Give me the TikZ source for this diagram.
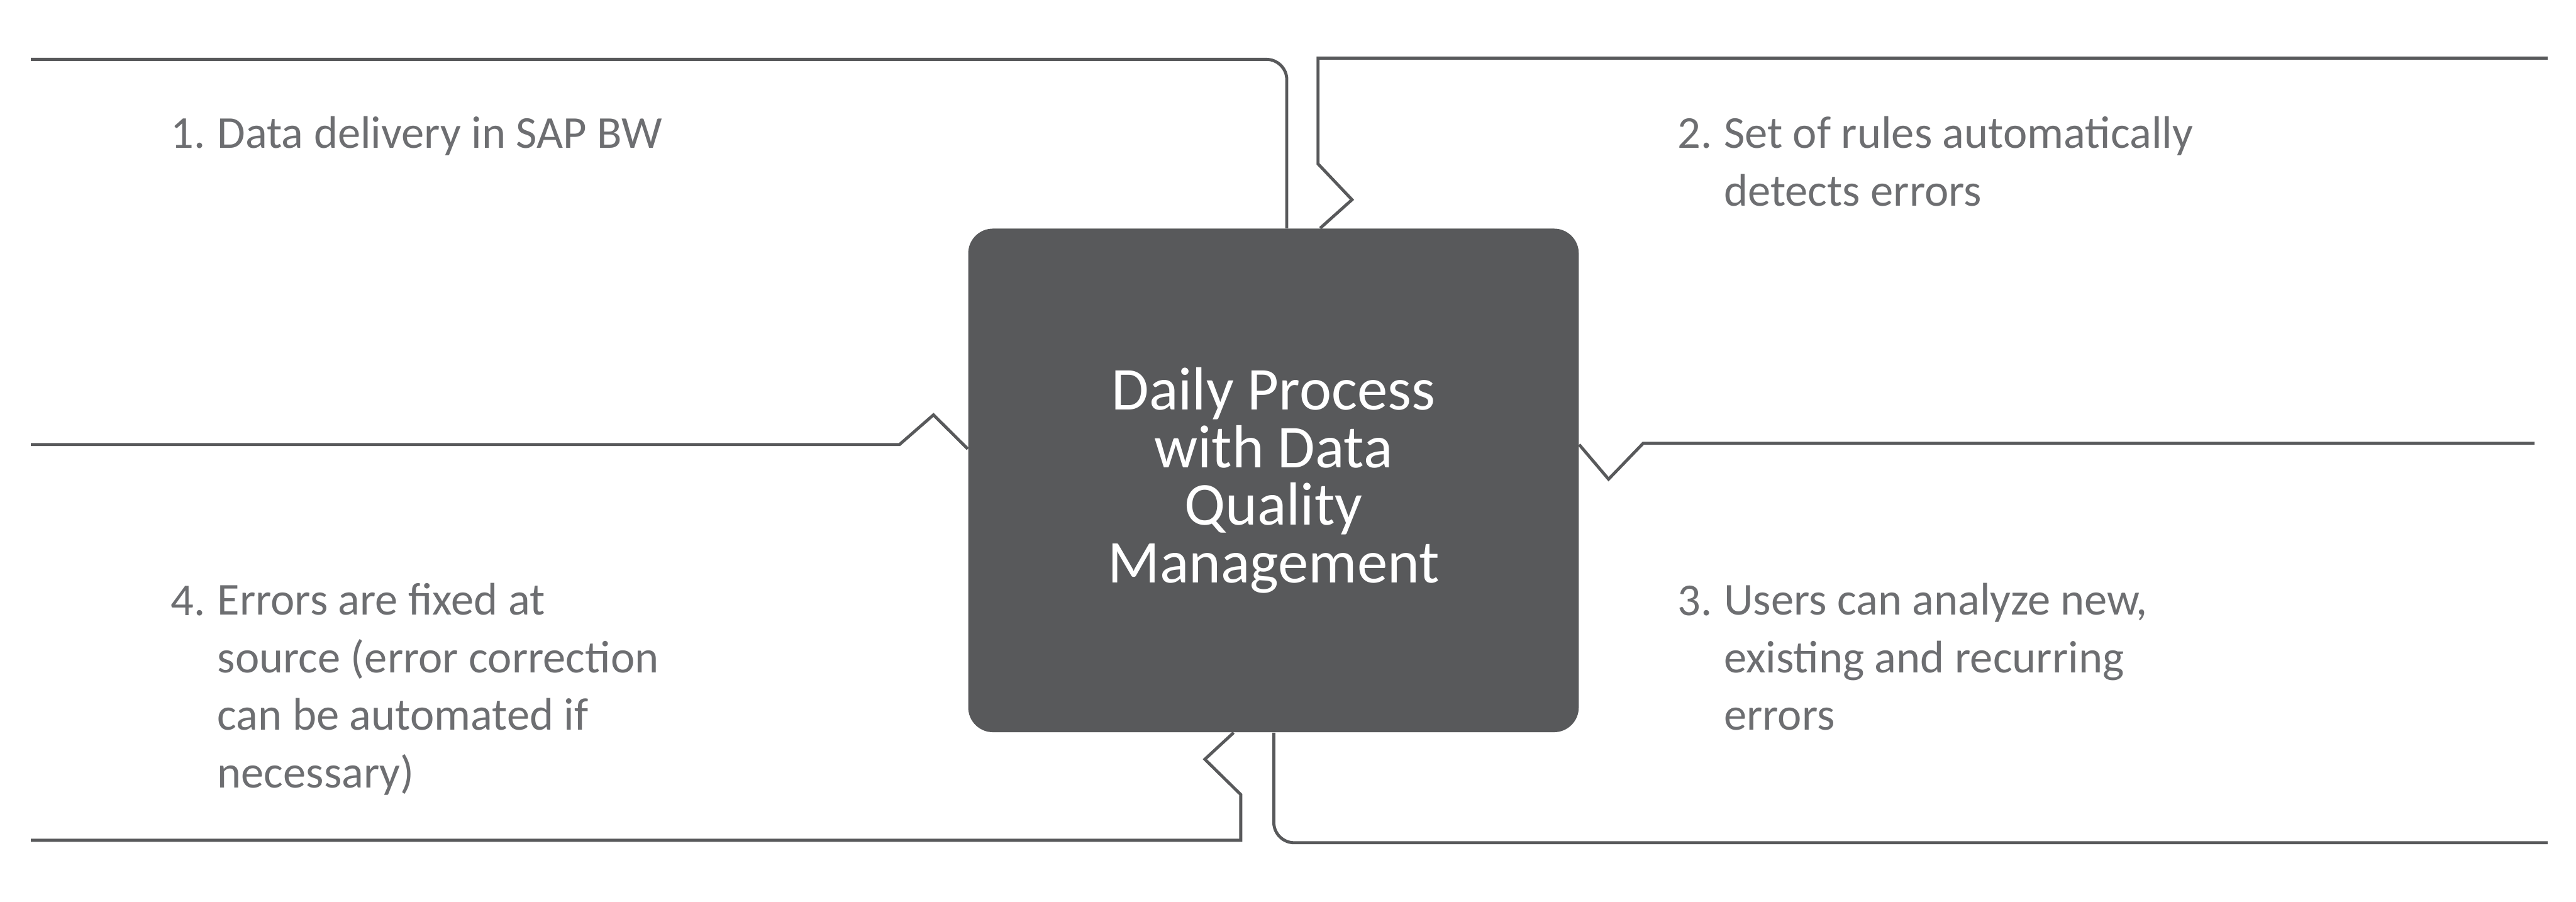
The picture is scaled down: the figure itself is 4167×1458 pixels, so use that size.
\documentclass[tikz,border=0pt]{standalone}
\usepackage{fontspec}
\setmainfont{Carlito}
\usepackage{tikz}
\usetikzlibrary{positioning, calc}
\definecolor{dqline}{HTML}{58595B}
\definecolor{dqtext}{HTML}{6D6E71}
\tikzstyle{hub} = [rectangle, rounded corners=0.4cm, minimum width=9.87cm, minimum height=8.14cm, fill=dqline, draw=none, text=white, align=center, font=\fontsize{28}{26.5}\selectfont]
\tikzstyle{panel} = [draw=dqline, line width=1.4pt, line join=miter]
\tikzstyle{num} = [anchor=base west, inner sep=0pt, text=dqtext, font=\fontsize{21}{26.5}\selectfont]
\tikzstyle{item} = [anchor=base west, inner sep=0pt, align=left, text=dqtext, font=\fontsize{21}{26.5}\selectfont]

\begin{document}
\begin{tikzpicture}[x=0.01cm, y=-0.01cm]
  \useasboundingbox (0,0) rectangle (4167,1458);
  \node[hub] (hub) at (2060,777) {Daily Process\\with Data\\Quality\\Management};

  % panel outlines
  \draw[panel, rounded corners=0.33cm] (50,96) -| ($(hub.north west)+(516,0)$);
  \draw[panel] (4121,94) -- (2132,94) -- (2132,265) -- (2187,323) -- ($(hub.north west)+(570,0)$);
  \draw[panel] (50,719) -- (1455,719) -- (1510,671) -- ($(hub.north west)+(0,357)$);
  \draw[panel] ($(hub.north east)+(0,350)$) -- (2602,775) -- (2658,717) -- (4100,717);
  \draw[panel] ($(hub.south west)+(430,0)$) -- (1949,1228) -- (2007,1285) -- (2007,1359) -- (50,1359);
  \draw[panel, rounded corners=0.33cm] ($(hub.south west)+(495,0)$) |- (4121,1363);

  % steps (multi-line texts sit on their last baseline)
  \node[num] (n1) at (276,240) {1.};
  \node[item] (t1) at (351,240) {Data delivery in SAP BW};
  \node[num] (n2) at (2713,240) {2.};
  \node[item] (t2) at (2788,333) {Set of rules automatically\\detects errors};
  \node[num] (n3) at (2713,995) {3.};
  \node[item] (t3) at (2788,1181) {Users can analyze new,\\existing and recurring\\errors};
  \node[num] (n4) at (276,995) {4.};
  \node[item] (t4) at (351,1274) {Errors are fixed at\\source (error correction\\can be automated if\\necessary)};
\end{tikzpicture}
\end{document}
